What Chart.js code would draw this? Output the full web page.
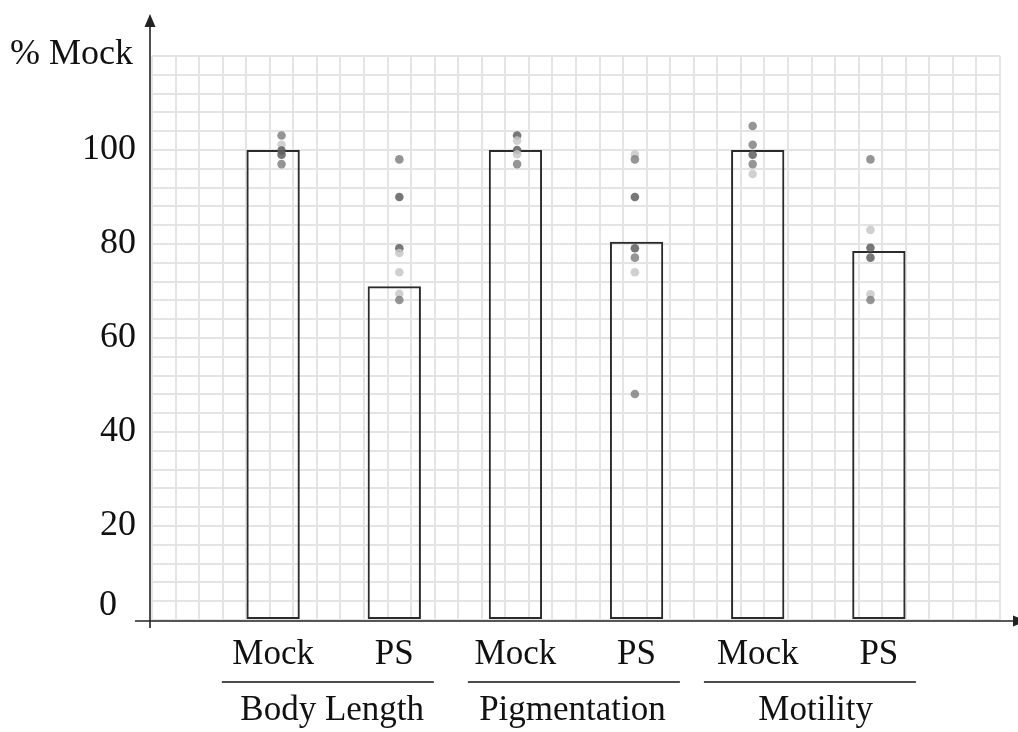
<!DOCTYPE html>
<html><head><meta charset="utf-8">
<script src="https://cdn.jsdelivr.net/npm/chart.js@4.4.1/dist/chart.umd.min.js"></script>
<style>html,body{margin:0;padding:0;background:#fff;}canvas{display:block;}</style>
</head><body>
<canvas id="c" width="1018" height="732"></canvas>
<script>
// ---- data ----
const categories = ['Mock', 'PS', 'Mock', 'PS', 'Mock', 'PS'];
const groups = ['Body Length', 'Pigmentation', 'Motility'];
const barValues = [100, 71, 100, 80.5, 100, 78.5];
const yTickLabels = [20, 40, 60, 80, 100];
const zeroLabel = '0';
const yTitle = '% Mock';

const dotsBodyMock = [103.1, 101.1, 99.9, 99.0, 97.0];
const shadeBodyMock = ['m', 'l', 'd', 'd', 'm'];
const dotsBodyPS = [98.0, 90.0, 79.1, 78.1, 74.0, 69.4, 68.1];
const shadeBodyPS = ['m', 'd', 'd', 'l', 'l', 'l', 'm'];
const dotsPigMock = [103.1, 102.0, 100.0, 99.1, 97.0];
const shadePigMock = ['d', 'l', 'd', 'l', 'm'];
const dotsPigPS = [99.1, 98.0, 90.0, 79.1, 77.1, 74.0, 48.1];
const shadePigPS = ['l', 'm', 'd', 'd', 'm', 'l', 'm'];
const dotsMotMock = [105.1, 101.1, 99.0, 97.0, 94.9];
const shadeMotMock = ['m', 'm', 'd', 'm', 'l'];
const dotsMotPS = [98.0, 83.0, 79.2, 77.1, 69.3, 68.1];
const shadeMotPS = ['m', 'l', 'd', 'd', 'l', 'm'];

const dotValues = [dotsBodyMock, dotsBodyPS, dotsPigMock, dotsPigPS, dotsMotMock, dotsMotPS];
const dotShades = [shadeBodyMock, shadeBodyPS, shadePigMock, shadePigPS, shadeMotMock, shadeMotPS];

// ---- styles ----
const FONT = "'Liberation Serif', 'Times New Roman', serif";
const shadeColors = { d: 'rgba(95,95,95,0.85)', m: 'rgba(130,130,130,0.85)', l: 'rgba(200,200,200,0.85)' };
const GRID = '#e4e4e4';

const xLabels = [''].concat(categories, ['']);

const dotDatasets = dotValues.map((vals, i) => ({
  type: 'scatter',
  xAxisID: 'xg',
  yAxisID: 'y',
  order: 0,
  data: vals.map(v => ({ x: i + 1, y: v })),
  pointRadius: 4.3,
  pointBorderWidth: 0,
  pointBackgroundColor: dotShades[i].map(s => shadeColors[s]),
  pointHoverRadius: 4.3
}));

const barDataset = {
  type: 'bar',
  xAxisID: 'x',
  yAxisID: 'y',
  order: 1,
  grouped: false,
  data: [null].concat(barValues, [null]),
  backgroundColor: 'rgba(0,0,0,0)',
  borderColor: '#2b2b2b',
  borderWidth: 2,
  borderSkipped: false,
  barPercentage: 0.44,
  categoryPercentage: 1
};

const deco = {
  id: 'deco',
  afterDraw(chart) {
    const { ctx, chartArea: a, scales } = chart;
    const xs = scales.xg, ys = scales.y;
    ctx.save();
    ctx.strokeStyle = '#222';
    ctx.fillStyle = '#222';
    ctx.lineWidth = 1.6;
    const ax = a.left - 2;
    const ay = ys.getPixelForValue(0) + 1;
    // y axis with arrow
    ctx.beginPath(); ctx.moveTo(ax, ay + 7); ctx.lineTo(ax, 24); ctx.stroke();
    ctx.beginPath(); ctx.moveTo(ax, 14); ctx.lineTo(ax - 5.5, 27); ctx.lineTo(ax + 5.5, 27); ctx.closePath(); ctx.fill();
    // x axis with arrow
    ctx.beginPath(); ctx.moveTo(a.left - 17, ay); ctx.lineTo(1014, ay); ctx.stroke();
    ctx.beginPath(); ctx.moveTo(1027, ay); ctx.lineTo(1013, ay - 5.5); ctx.lineTo(1013, ay + 5.5); ctx.closePath(); ctx.fill();

    ctx.fillStyle = '#111';
    // y title
    ctx.font = '36px ' + FONT;
    ctx.textAlign = 'left';
    ctx.textBaseline = 'alphabetic';
    ctx.fillText(yTitle, 10, 64);
    // zero label (drawn slightly raised as in reference)
    ctx.textAlign = 'center';
    ctx.fillText(zeroLabel, a.left - 44, ys.getPixelForValue(0) - 5);

    // group separators and labels
    const lineCenters = [1.393, 3.482, 5.486];
    const textCenters = [1.43, 3.47, 5.535];
    const unit = xs.getPixelForValue(1) - xs.getPixelForValue(0);
    ctx.lineWidth = 1.3;
    ctx.strokeStyle = '#111';
    ctx.font = '35px ' + FONT;
    groups.forEach((g, i) => {
      const c = xs.getPixelForValue(lineCenters[i]);
      const hw = unit * 0.9;
      ctx.beginPath(); ctx.moveTo(c - hw, a.bottom + 62); ctx.lineTo(c + hw, a.bottom + 62); ctx.stroke();
      ctx.fillText(g, xs.getPixelForValue(textCenters[i]), a.bottom + 100);
    });
    ctx.restore();
  }
};

new Chart(document.getElementById('c'), {
  type: 'bar',
  data: { labels: xLabels, datasets: dotDatasets.concat([barDataset]) },
  options: {
    responsive: false,
    animation: false,
    events: [],
    layout: { padding: { left: 0, top: 56, right: 18, bottom: 0 } },
    plugins: { legend: { display: false }, tooltip: { enabled: false } },
    scales: {
      x: {
        type: 'category',
        position: 'bottom',
        offset: false,
        grid: { display: false, drawTicks: false },
        border: { display: false },
        ticks: {
          autoSkip: false, maxRotation: 0, minRotation: 0,
          color: '#111', padding: 14,
          font: { family: FONT, size: 35 }
        },
        afterFit(s) { s.height = 112; }
      },
      xg: {
        type: 'linear',
        position: 'top',
        min: 0, max: 7,
        grid: { color: GRID, lineWidth: 2, drawTicks: false },
        border: { display: false },
        ticks: { display: false, stepSize: 0.2 },
        afterFit(s) { s.height = 0; }
      },
      y: {
        type: 'linear',
        position: 'left',
        min: 0, max: 120,
        grid: { color: GRID, lineWidth: 2, drawTicks: false },
        border: { display: false },
        ticks: {
          stepSize: 4, autoSkip: false, padding: 16,
          color: '#111',
          font: { family: FONT, size: 36 },
          callback: (v) => yTickLabels.includes(v) ? String(v) : ''
        },
        afterFit(s) { s.width = 152; }
      }
    }
  },
  plugins: [deco]
});
</script>
</body></html>
